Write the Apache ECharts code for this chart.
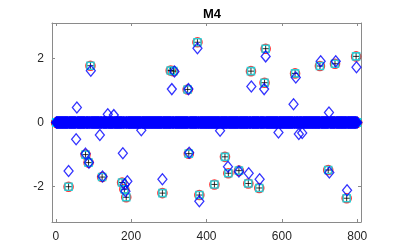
<!DOCTYPE html>
<html>
<head>
<meta charset="utf-8">
<script src="https://cdn.jsdelivr.net/npm/echarts@6/dist/echarts.min.js"></script>
<style>html,body{margin:0;padding:0;background:#fff}#c{width:399px;height:250px}</style>
</head>
<body>
<div id="c"></div>
<script>
// ---- data ----
const chartTitle = 'M4';
const signalLength = 800;
const xTicks = [0, 200, 400, 600, 800];
const yTicks = [-2, 0, 2];
// true sparse signal: nonzero indices and values
const trueIdx = [34, 79, 87, 92, 123, 176, 182, 187, 283, 305, 312, 350, 353, 376, 381, 421, 449, 458, 486, 511, 518, 540, 554, 557, 635, 701, 723, 741, 772, 797];
const trueVal = [-2.0, -1.0, -1.25, 1.77, -1.7, -1.87, -2.08, -2.33, -2.2, 1.62, 1.6, 1.03, -0.97, 2.5, -2.26, -1.93, -1.07, -1.58, -1.5, -1.9, 1.6, -2.04, 1.24, 2.3, 1.53, 1.76, -1.48, 1.83, -2.36, 2.06];
// estimate (blue diamonds): nonzero indices and values
const estIdx = [34, 54, 56, 79, 88, 93, 117, 124, 138, 154, 178, 183, 185, 190, 227, 283, 308, 315, 352, 354, 376, 381, 436, 457, 486, 512, 519, 541, 553, 557, 591, 631, 637, 645, 654, 703, 725, 726, 743, 773, 798];
const estVal = [-1.51, -0.52, 0.47, -0.97, -1.25, 1.61, -0.39, -1.68, 0.26, 0.23, -0.96, -1.93, -2.14, -1.83, -0.24, -1.77, 1.04, 1.59, 1.04, -0.94, 2.31, -2.45, -0.26, -1.38, -1.53, -1.58, 1.12, -1.77, 1.04, 2.06, -0.31, 0.57, 1.40, -0.36, -0.33, 1.91, 0.31, -1.56, 1.91, -2.11, 1.72];

// expand sparse vectors to full length
function dense(idx, val) {
  const m = new Map();
  idx.forEach((k, i) => m.set(k, val[i]));
  const out = [];
  for (let k = 1; k <= signalLength; k++) out.push([k, m.has(k) ? m.get(k) : 0]);
  return out;
}
const trueData = dense(trueIdx, trueVal);
const estData = dense(estIdx, estVal);

const axisGray = '#8a8a8a';
const labelColor = '#262626';
const font = 'Liberation Sans, Arial, sans-serif';

const chart = echarts.init(document.getElementById('c'), null, {renderer: 'canvas'});
chart.setOption({
  animation: false,
  backgroundColor: '#fff',
  title: {
    text: chartTitle, left: 207, top: 3, textAlign: 'center',
    textStyle: {fontSize: 13, fontWeight: 'bold', color: '#000', fontFamily: font}
  },
  grid: {left: 52, right: 38, top: 23, bottom: 28},
  xAxis: [{
    type: 'value', min: -10, max: 810, position: 'bottom',
    axisLine: {show: true, onZero: false, lineStyle: {color: axisGray, width: 1}},
    axisTick: {show: true, inside: true, length: 3, customValues: xTicks, lineStyle: {color: axisGray}},
    axisLabel: {show: true, customValues: xTicks, margin: 9, color: labelColor, fontSize: 12, fontFamily: font},
    splitLine: {show: false}
  }, {
    type: 'value', min: -10, max: 810, position: 'top',
    axisLine: {show: true, onZero: false, lineStyle: {color: axisGray, width: 1}},
    axisTick: {show: true, inside: true, length: 3, customValues: xTicks, lineStyle: {color: axisGray}},
    axisLabel: {show: false},
    splitLine: {show: false}
  }],
  yAxis: [{
    type: 'value', min: -3.1, max: 3.1, position: 'left',
    axisLine: {show: true, onZero: false, lineStyle: {color: axisGray, width: 1}},
    axisTick: {show: true, inside: true, length: 3, customValues: yTicks, lineStyle: {color: axisGray}},
    axisLabel: {show: true, customValues: yTicks, margin: 8, color: labelColor, fontSize: 12, fontFamily: font},
    splitLine: {show: false}
  }, {
    type: 'value', min: -3.1, max: 3.1, position: 'right',
    axisLine: {show: true, onZero: false, lineStyle: {color: axisGray, width: 1}},
    axisTick: {show: true, inside: true, length: 3, customValues: yTicks, lineStyle: {color: axisGray}},
    axisLabel: {show: false},
    splitLine: {show: false}
  }],
  series: [
    {
      type: 'scatter', name: 'true', data: trueData, symbol: 'circle', symbolSize: 9,
      itemStyle: {color: 'rgba(255,255,255,0)', borderColor: '#ff0000', borderWidth: 1.6}
    },
    {
      type: 'scatter', name: 'm2', data: trueData, symbol: 'rect', symbolSize: 7,
      itemStyle: {color: 'rgba(255,255,255,0)', borderColor: '#00e5ee', borderWidth: 1.6}
    },
    {
      type: 'scatter', name: 'm3', data: trueData, symbol: 'path://M5,0 L5,10 M0,5 L10,5', symbolSize: 6,
      itemStyle: {color: 'rgba(0,0,0,0)', borderColor: '#000', borderWidth: 1}
    },
    {
      type: 'scatter', name: 'est', data: estData, symbol: 'diamond', symbolSize: [9, 11],
      itemStyle: {color: 'rgba(255,255,255,0)', borderColor: '#0000ff', borderWidth: 1.3}
    }
  ]
});
</script>
</body>
</html>
